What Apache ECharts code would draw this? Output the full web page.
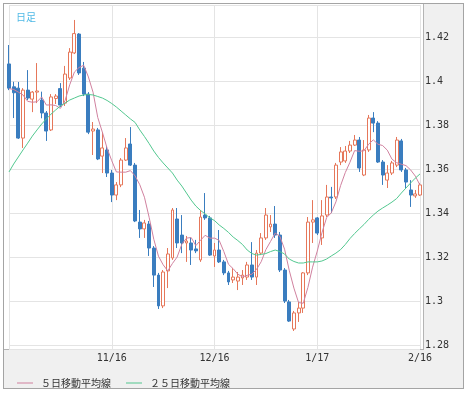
<!DOCTYPE html>
<html><head><meta charset="utf-8">
<script src="https://cdn.jsdelivr.net/npm/echarts@6/dist/echarts.min.js"></script>
<style>
html,body{margin:0;padding:0;background:#fff;}
#frame{position:absolute;left:3px;top:3px;width:461px;height:386px;box-sizing:border-box;border:1px solid #a4a4a4;background:#f0f0f0;}
#plot{position:absolute;left:4px;top:4px;width:420px;height:346px;box-sizing:border-box;background:#fff;border-right:1px solid #b4b4b4;border-bottom:1px solid #b4b4b4;}
#chart{position:absolute;left:0;top:0;width:468px;height:395px;}
</style></head><body>
<div id="frame"></div><div id="plot"></div><div id="chart"></div>
<script>
// trading days 2016-10-17 .. 2017-02-16 (weekdays)
const dates = (function(){
  const out = [];
  const d = new Date(2016, 9, 17);
  const end = new Date(2017, 1, 16);
  while (d <= end) {
    const wd = d.getDay();
    if (wd !== 0 && wd !== 6) out.push((d.getMonth()+1) + '/' + d.getDate());
    d.setDate(d.getDate()+1);
  }
  return out;
})();
const xTickLabels = ['11/16','12/16','1/17','2/16'];
const gridDates = ['10/17','11/16','12/16','1/17','2/16'];

const opens = [
1.4080,1.3976,1.3970,1.3743,1.3961,1.3920,1.3952,1.3916,1.3857,1.3780,
1.3923,1.3968,1.3902,1.4016,1.4130,1.4216,1.4061,1.3943,1.3775,1.3780,
1.3661,1.3689,1.3584,1.3484,1.3530,1.3643,1.3716,1.3620,1.3361,1.3330,
1.3352,1.3243,1.3120,1.2980,1.3139,1.3198,1.3375,1.3302,1.3266,1.3266,
1.3239,1.3189,1.3393,1.3380,1.3207,1.3234,1.3180,1.3130,1.3098,1.3093,
1.3107,1.3111,1.3166,1.3111,1.3220,1.3289,1.3339,1.3352,1.3302,1.3143,
1.2998,1.2875,1.2948,1.2970,1.3130,1.3361,1.3380,1.3289,1.3393,1.3475,
1.3475,1.3634,1.3639,1.3684,1.3711,1.3734,1.3575,1.3689,1.3834,1.3811,
1.3634,1.3552,1.3584,1.3620,1.3730,1.3598,1.3507,1.3480,1.3484];
const closes = [
1.3970,1.3949,1.3743,1.3961,1.3925,1.3952,1.3957,1.3857,1.3775,1.3930,
1.3934,1.3893,1.4034,1.4134,1.4218,1.4039,1.3943,1.3770,1.3784,1.3648,
1.3698,1.3584,1.3484,1.3530,1.3643,1.3698,1.3620,1.3366,1.3330,1.3357,
1.3243,1.3120,1.2980,1.3134,1.3216,1.3416,1.3266,1.3266,1.3275,1.3234,
1.3230,1.3384,1.3380,1.3211,1.3234,1.3180,1.3130,1.3089,1.3111,1.3111,
1.3120,1.3166,1.3111,1.3220,1.3289,1.3393,1.3352,1.3302,1.3143,1.3002,
1.2911,1.2948,1.2970,1.3130,1.3361,1.3371,1.3311,1.3389,1.3475,1.3471,
1.3620,1.3680,1.3684,1.3711,1.3734,1.3607,1.3689,1.3834,1.3811,1.3634,
1.3575,1.3584,1.3630,1.3734,1.3598,1.3543,1.3484,1.3489,1.3530];
const lows = [
1.3961,1.3834,1.3739,1.3698,1.3916,1.3861,1.3902,1.3833,1.3730,1.3775,
1.3898,1.3884,1.3889,1.4007,1.4125,1.4030,1.3934,1.3761,1.3666,1.3643,
1.3584,1.3566,1.3452,1.3461,1.3520,1.3639,1.3616,1.3361,1.3289,1.3289,
1.3207,1.3066,1.2966,1.2970,1.3061,1.3189,1.3243,1.3220,1.3180,1.3166,
1.3220,1.3180,1.3371,1.3207,1.3157,1.3175,1.3120,1.3075,1.3084,1.3052,
1.3075,1.3098,1.3098,1.3075,1.3211,1.3280,1.3316,1.3289,1.3134,1.2993,
1.2907,1.2866,1.2907,1.2948,1.3120,1.3266,1.3302,1.3257,1.3384,1.3402,
1.3466,1.3620,1.3630,1.3675,1.3707,1.3589,1.3570,1.3680,1.3770,1.3630,
1.3530,1.3516,1.3575,1.3611,1.3589,1.3516,1.3430,1.3471,1.3480];
const highs = [
1.4166,1.3999,1.3998,1.3970,1.4052,1.3957,1.4084,1.3954,1.3866,1.3943,
1.3943,1.3993,1.4071,1.4152,1.4280,1.4220,1.4089,1.3952,1.3816,1.3789,
1.3770,1.3707,1.3598,1.3543,1.3652,1.3743,1.3793,1.3630,1.3416,1.3371,
1.3366,1.3252,1.3130,1.3143,1.3243,1.3425,1.3425,1.3393,1.3298,1.3289,
1.3280,1.3416,1.3493,1.3389,1.3266,1.3325,1.3189,1.3139,1.3152,1.3134,
1.3143,1.3180,1.3270,1.3234,1.3311,1.3425,1.3393,1.3434,1.3316,1.3152,
1.3007,1.2957,1.2998,1.3134,1.3384,1.3461,1.3384,1.3461,1.3530,1.3521,
1.3630,1.3702,1.3707,1.3730,1.3757,1.3748,1.3734,1.3848,1.3861,1.3820,
1.3643,1.3620,1.3639,1.3748,1.3739,1.3607,1.3552,1.3507,1.3539];
const ma5 = [
1.3968,1.3964,1.3952,1.3939,1.3910,1.3906,1.3908,1.3930,1.3893,1.3894,
1.3891,1.3878,1.3913,1.3985,1.4043,1.4064,1.4074,1.4021,1.3951,1.3837,
1.3769,1.3697,1.3640,1.3589,1.3588,1.3588,1.3595,1.3571,1.3531,1.3474,
1.3383,1.3283,1.3206,1.3167,1.3139,1.3173,1.3202,1.3260,1.3288,1.3291,
1.3254,1.3278,1.3301,1.3288,1.3288,1.3278,1.3227,1.3169,1.3149,1.3124,
1.3112,1.3119,1.3124,1.3146,1.3181,1.3236,1.3273,1.3311,1.3296,1.3238,
1.3142,1.3061,1.2995,1.2992,1.3064,1.3156,1.3229,1.3312,1.3381,1.3403,
1.3453,1.3527,1.3586,1.3633,1.3686,1.3683,1.3685,1.3715,1.3735,1.3715,
1.3709,1.3688,1.3647,1.3631,1.3624,1.3618,1.3598,1.3570,1.3529];
const ma25 = [
1.3589,1.3625,1.3657,1.3689,1.3720,1.3752,1.3780,1.3807,1.3830,1.3852,
1.3871,1.3889,1.3902,1.3916,1.3925,1.3934,1.3939,1.3941,1.3939,1.3932,
1.3925,1.3914,1.3900,1.3884,1.3866,1.3848,1.3830,1.3814,1.3780,1.3750,
1.3718,1.3684,1.3655,1.3630,1.3607,1.3584,1.3552,1.3525,1.3493,1.3461,
1.3434,1.3414,1.3398,1.3380,1.3368,1.3348,1.3332,1.3314,1.3293,1.3277,
1.3259,1.3234,1.3218,1.3211,1.3214,1.3218,1.3227,1.3234,1.3227,1.3216,
1.3193,1.3182,1.3175,1.3175,1.3180,1.3180,1.3180,1.3184,1.3193,1.3207,
1.3220,1.3236,1.3259,1.3286,1.3309,1.3330,1.3350,1.3373,1.3393,1.3411,
1.3425,1.3438,1.3452,1.3468,1.3493,1.3516,1.3539,1.3561,1.3580];

const seriesNames = ['５日移動平均線', '２５日移動平均線'];
const ohlc = dates.map((d, i) => [opens[i], closes[i], lows[i], highs[i]]);

const chart = echarts.init(document.getElementById('chart'), null, {renderer: 'canvas'});
chart.setOption({
  backgroundColor: 'transparent',
  animation: false,
  title: {
    text: '日足', left: 11, top: 7,
    textStyle: {color: '#4fb9e6', fontSize: 10, fontWeight: 'normal', fontFamily: 'Noto Sans CJK JP'}
  },
  legend: {
    left: 12, top: 373, itemWidth: 16, itemHeight: 1, itemGap: 15, icon: 'rect',
    textStyle: {fontSize: 10, color: '#333', fontFamily: 'Noto Sans CJK JP', padding: [0, 0, 0, 3]},
    data: seriesNames
  },
  grid: {left: 9, right: 48, top: 5, bottom: 46, containLabel: false},
  xAxis: {
    type: 'category', data: dates, boundaryGap: false,
    axisLine: {show: false}, axisTick: {show: false},
    axisLabel: {
      interval: (i, v) => xTickLabels.includes(v),
      color: '#333', fontFamily: 'DejaVu Sans Mono', fontSize: 10, margin: 4
    },
    splitLine: {show: true, interval: (i, v) => gridDates.includes(v), lineStyle: {color: '#e4e4e4', width: 1}}
  },
  yAxis: {
    type: 'value', position: 'right', min: 1.2784, max: 1.4348,
    splitNumber: 8, minInterval: 0.02, maxInterval: 0.02,
    axisLine: {show: false}, axisTick: {show: false},
    axisLabel: {
      showMinLabel: false, showMaxLabel: false,
      color: '#333', fontFamily: 'DejaVu Sans Mono', fontSize: 10, margin: 5,
      formatter: v => String(+v.toFixed(2))
    },
    splitLine: {lineStyle: {color: '#e4e4e4', width: 1}}
  },
  series: [
    {
      type: 'candlestick', data: ohlc, barWidth: 3.4, clip: false,
      itemStyle: {color: '#ffffff', color0: '#3a7dbf', borderColor: '#e6775a', borderColor0: '#3a7dbf', borderWidth: 1}
    },
    {
      type: 'line', name: seriesNames[0], data: ma5, symbol: 'none', z: 3,
      lineStyle: {width: 1, color: '#d0819f'}, itemStyle: {color: '#d0819f'}
    },
    {
      type: 'line', name: seriesNames[1], data: ma25, symbol: 'none', z: 3,
      lineStyle: {width: 1, color: '#52c78f'}, itemStyle: {color: '#52c78f'}
    }
  ]
});
</script></body></html>
